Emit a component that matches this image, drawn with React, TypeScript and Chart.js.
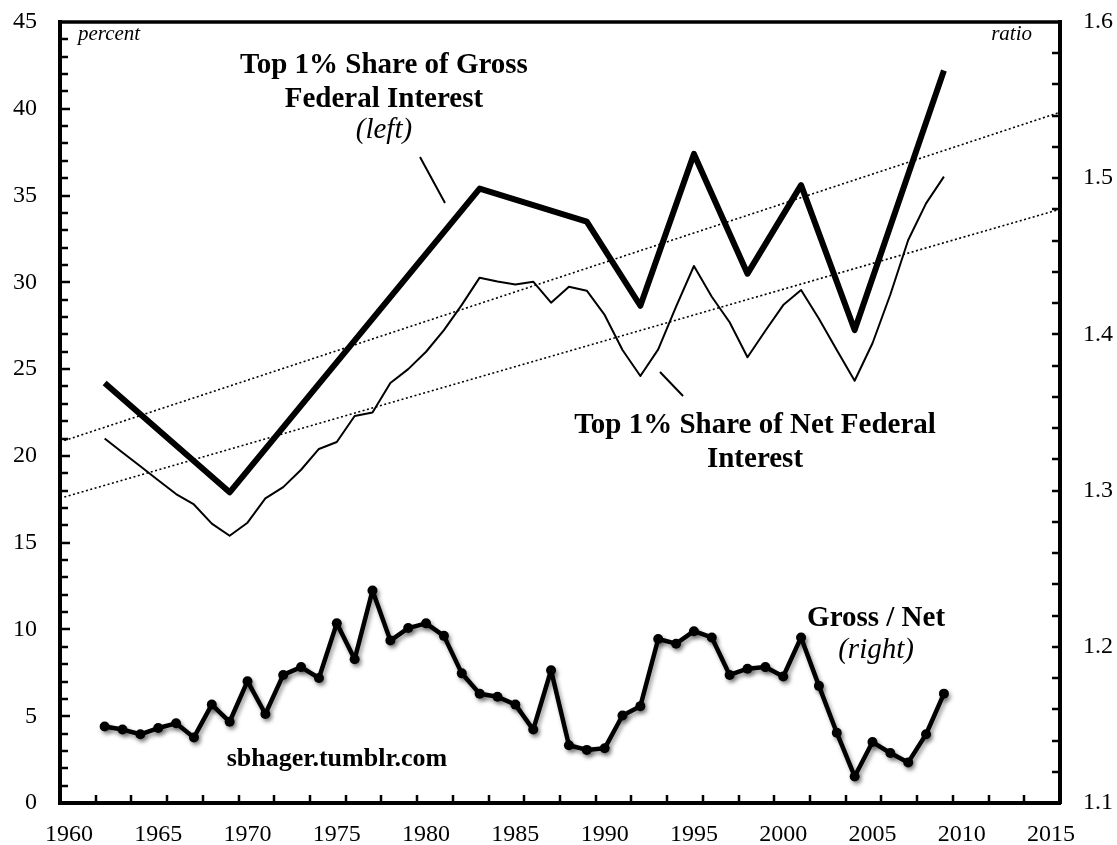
import { useEffect, useRef } from "react";
import { Chart, registerables } from "chart.js";

Chart.register(...registerables);

const FONT = "'Liberation Serif', 'Times New Roman', serif";

// Years of the yearly series
const years = [
  1962, 1963, 1964, 1965, 1966, 1967, 1968, 1969, 1970, 1971, 1972, 1973,
  1974, 1975, 1976, 1977, 1978, 1979, 1980, 1981, 1982, 1983, 1984, 1985,
  1986, 1987, 1988, 1989, 1990, 1991, 1992, 1993, 1994, 1995, 1996, 1997,
  1998, 1999, 2000, 2001, 2002, 2003, 2004, 2005, 2006, 2007, 2008, 2009,
];

// Top 1% share of net federal interest (percent, left axis)
const netShare = [
  21.0, 20.2, 19.4, 18.6, 17.8, 17.2, 16.1, 15.4, 16.15, 17.55, 18.2, 19.2,
  20.4, 20.8, 22.3, 22.5, 24.2, 25.0, 26.0, 27.25, 28.7, 30.27, 30.05, 29.88,
  30.04, 28.83, 29.75, 29.52, 28.12, 26.1, 24.6, 26.14, 28.6, 30.94, 29.17, 27.7,
  25.68, 27.21, 28.69, 29.56, 27.9, 26.1, 24.33, 26.49, 29.3, 32.44, 34.55, 36.09,
];

// Gross / Net ratio (right axis)
const grossNetRatio = [
  1.149, 1.147, 1.144, 1.148, 1.151, 1.142, 1.163, 1.152, 1.178, 1.157, 1.182, 1.187,
  1.180, 1.215, 1.192, 1.236, 1.204, 1.212, 1.215, 1.207, 1.183, 1.170, 1.168, 1.163,
  1.147, 1.185, 1.137, 1.134, 1.135, 1.156, 1.162, 1.205, 1.202, 1.210, 1.206, 1.182,
  1.186, 1.187, 1.181, 1.206, 1.175, 1.145, 1.117, 1.139, 1.132, 1.126, 1.144, 1.170,
];

// Top 1% share of gross federal interest (percent, left axis), survey years
const grossYears = [1962, 1969, 1983, 1989, 1992, 1995, 1998, 2001, 2004, 2009];
const grossShare = [24.2, 17.9, 35.4, 33.5, 28.65, 37.4, 30.5, 35.6, 27.25, 42.2];

// Linear trend lines (endpoints at the axis limits)
const trendYears = [1959.5, 2015.5];
const trendGross = [20.8, 39.8];
const trendNet = [17.56, 34.21];

// Tick labels
const xTickLabels = [1960, 1965, 1970, 1975, 1980, 1985, 1990, 1995, 2000, 2005, 2010, 2015];
const leftTickLabels = [0, 5, 10, 15, 20, 25, 30, 35, 40, 45];
const rightTickLabels = [1.1, 1.2, 1.3, 1.4, 1.5, 1.6];

type Note = { text: string; x: number; y: number; bold?: boolean; italic?: boolean; size: number };
const notes: Note[] = [
  { text: "Top 1% Share of Gross", x: 1977.64, y: 42.06, bold: true, size: 29 },
  { text: "Federal Interest", x: 1977.64, y: 40.1, bold: true, size: 29 },
  { text: "(left)", x: 1977.64, y: 38.32, italic: true, size: 29 },
  { text: "Top 1% Share of Net Federal", x: 1998.42, y: 21.32, bold: true, size: 29 },
  { text: "Interest", x: 1998.42, y: 19.36, bold: true, size: 29 },
  { text: "Gross / Net", x: 2005.2, y: 10.2, bold: true, size: 29 },
  { text: "(right)", x: 2005.2, y: 8.35, italic: true, size: 29 },
  { text: "sbhager.tumblr.com", x: 1975.01, y: 2.13, bold: true, size: 26 },
];
const pointers = [
  [1979.66, 37.22, 1981.06, 34.57],
  [1993.1, 24.83, 1994.39, 23.45],
];

const pairs = (xs: number[], ys: number[]) => xs.map((x, i) => ({ x, y: ys[i] }));

const decorPlugin = {
  id: "decor",
  beforeDatasetDraw(chart: any, args: any) {
    if (args.index === 4) {
      const ctx = chart.ctx;
      ctx.save();
      ctx.shadowColor = "rgba(0,0,0,0.4)";
      ctx.shadowBlur = 4;
      ctx.shadowOffsetX = 2;
      ctx.shadowOffsetY = 3;
    }
  },
  afterDatasetDraw(chart: any, args: any) {
    if (args.index === 4) chart.ctx.restore();
  },
  afterDraw(chart: any) {
    const { ctx, chartArea } = chart;
    const xs = chart.scales.x;
    const ys = chart.scales.y;
    const y2 = chart.scales.y2;
    const { left, right, top, bottom } = chartArea;
    ctx.save();
    ctx.strokeStyle = "#000";
    ctx.lineWidth = 2.5;
    ctx.beginPath();
    for (let t = 1961.5; t < 2015.4; t += 2) {
      const px = Math.round(xs.getPixelForValue(t));
      ctx.moveTo(px, bottom);
      ctx.lineTo(px, bottom - 8);
    }
    for (let v = 1; v < 45; v++) {
      const py = Math.round(ys.getPixelForValue(v));
      const len = v % 5 === 0 ? 10 : 8;
      ctx.moveTo(left, py);
      ctx.lineTo(left + len, py);
    }
    for (let k = 1; k < 25; k++) {
      const py = Math.round(y2.getPixelForValue(1.1 + k * 0.02));
      ctx.moveTo(right, py);
      ctx.lineTo(right - 8, py);
    }
    ctx.stroke();
    // top frame line
    ctx.lineWidth = 3.5;
    ctx.beginPath();
    ctx.moveTo(left - 2, top);
    ctx.lineTo(right + 2, top);
    ctx.stroke();

    // unit labels
    ctx.fillStyle = "#000";
    ctx.font = `italic 21px ${FONT}`;
    ctx.textBaseline = "alphabetic";
    ctx.textAlign = "left";
    ctx.fillText("percent", left + 18, top + 18);
    ctx.textAlign = "right";
    ctx.fillText("ratio", right - 28, top + 18);

    // annotations
    ctx.textAlign = "center";
    for (const n of notes) {
      ctx.font = `${n.italic ? "italic " : ""}${n.bold ? "bold " : ""}${n.size}px ${FONT}`;
      ctx.fillText(n.text, xs.getPixelForValue(n.x), ys.getPixelForValue(n.y));
    }
    ctx.lineWidth = 2;
    ctx.beginPath();
    for (const p of pointers) {
      ctx.moveTo(xs.getPixelForValue(p[0]), ys.getPixelForValue(p[1]));
      ctx.lineTo(xs.getPixelForValue(p[2]), ys.getPixelForValue(p[3]));
    }
    ctx.stroke();
    ctx.restore();
  },
};

export default function App() {
  const ref = useRef<HTMLCanvasElement | null>(null);
  useEffect(() => {
    document.body.style.margin = "0";
    const canvas = ref.current;
    if (!canvas) return;
    const tickFont = { family: FONT, size: 24 };
    const chart = new Chart(canvas, {
      type: "line",
      data: {
        datasets: [
          {
            label: "Gross trend",
            data: pairs(trendYears, trendGross),
            yAxisID: "y",
            borderColor: "#000",
            borderWidth: 1.6,
            borderDash: [2, 2.5],
            pointRadius: 0,
          },
          {
            label: "Net trend",
            data: pairs(trendYears, trendNet),
            yAxisID: "y",
            borderColor: "#000",
            borderWidth: 1.6,
            borderDash: [2, 2.5],
            pointRadius: 0,
          },
          {
            label: "Top 1% Share of Net Federal Interest",
            data: pairs(years, netShare),
            yAxisID: "y",
            borderColor: "#000",
            borderWidth: 2,
            pointRadius: 0,
            borderJoinStyle: "round",
          },
          {
            label: "Top 1% Share of Gross Federal Interest",
            data: pairs(grossYears, grossShare),
            yAxisID: "y",
            borderColor: "#000",
            borderWidth: 6,
            pointRadius: 0,
            borderJoinStyle: "round",
          },
          {
            label: "Gross / Net",
            data: pairs(years, grossNetRatio),
            yAxisID: "y2",
            borderColor: "#000",
            borderWidth: 4.5,
            pointRadius: 5,
            pointBackgroundColor: "#000",
            pointBorderColor: "#000",
            pointBorderWidth: 0,
            borderJoinStyle: "round",
          },
        ],
      },
      options: {
        responsive: false,
        animation: false,
        events: [],
        layout: { padding: { top: 22, left: 0, right: 0, bottom: 0 } },
        plugins: { legend: { display: false }, tooltip: { enabled: false } },
        elements: { line: { tension: 0 } },
        scales: {
          x: {
            type: "linear",
            position: "bottom",
            min: 1959.5,
            max: 2015.5,
            grid: { display: false, drawTicks: false },
            border: { display: true, color: "#000", width: 4 },
            afterBuildTicks: (s: any) => {
              s.ticks = xTickLabels.map((v) => ({ value: v }));
            },
            afterFit: (s: any) => {
              s.height = 42;
              s.paddingLeft = 0;
              s.paddingRight = 0;
            },
            ticks: {
              color: "#000",
              font: tickFont,
              padding: 17,
              maxRotation: 0,
              autoSkip: false,
              callback: (v: any) => String(v),
            },
          },
          y: {
            type: "linear",
            position: "left",
            min: 0,
            max: 45,
            grid: { display: false, drawTicks: false },
            border: { display: true, color: "#000", width: 4 },
            afterBuildTicks: (s: any) => {
              s.ticks = leftTickLabels.map((v) => ({ value: v }));
            },
            afterFit: (s: any) => {
              s.width = 60;
              s.paddingTop = 0;
              s.paddingBottom = 0;
            },
            ticks: {
              color: "#000",
              font: tickFont,
              padding: 23,
              callback: (v: any) => String(v),
            },
          },
          y2: {
            type: "linear",
            position: "right",
            min: 1.1,
            max: 1.6,
            grid: { display: false, drawTicks: false },
            border: { display: true, color: "#000", width: 4 },
            afterBuildTicks: (s: any) => {
              s.ticks = rightTickLabels.map((v) => ({ value: v }));
            },
            afterFit: (s: any) => {
              s.width = 57;
              s.paddingTop = 0;
              s.paddingBottom = 0;
            },
            ticks: {
              color: "#000",
              font: tickFont,
              padding: 23,
              callback: (v: any) => Number(v).toFixed(1),
            },
          },
        },
      },
      plugins: [decorPlugin],
    } as any);
    return () => chart.destroy();
  }, []);
  return (
    <div style={{ width: 1117, height: 845, background: "#fff" }}>
      <canvas ref={ref} width={1117} height={845} style={{ display: "block" }} />
    </div>
  );
}
